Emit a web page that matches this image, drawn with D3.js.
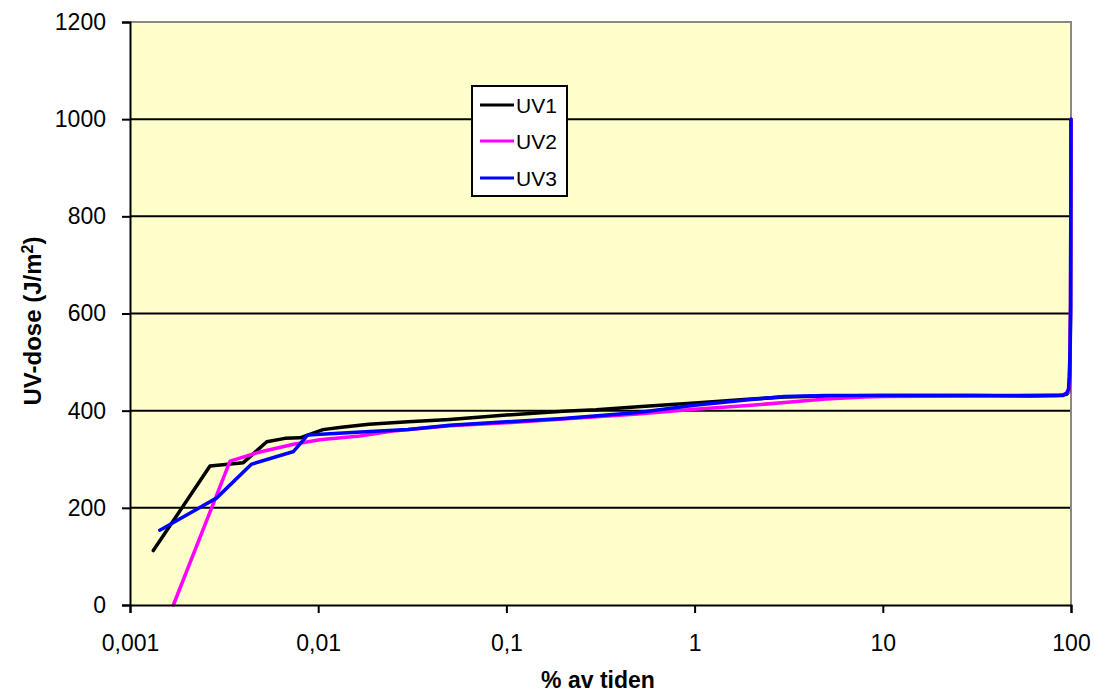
<!DOCTYPE html>
<html>
<head>
<meta charset="utf-8">
<script src="https://cdn.jsdelivr.net/npm/d3@7"></script>
<style>
  html, body { margin: 0; padding: 0; background: #ffffff; }
  svg { display: block; }
  text { font-family: Arial, "Liberation Sans", sans-serif; }
</style>
</head>
<body>
<svg id="chart" width="1095" height="693"></svg>
<script>
// ---- data ----
const seriesNames = ["UV1", "UV2", "UV3"];
const uv1X = [0.00133, 0.00266, 0.004, 0.00533, 0.00666, 0.008, 0.0106, 0.0133, 0.0186, 0.03, 0.05, 0.1, 0.2, 0.3, 0.5, 1, 2, 3, 5, 10, 30, 60, 85, 95, 97, 98, 99, 99.5, 99.95];
const uv1Y = [112, 286, 293, 336, 343, 344, 361, 366, 372, 377, 382, 391, 399, 402, 408, 416, 424, 428, 430, 431, 431, 430, 431, 434, 438, 450, 520, 600, 1000];
const uv2X = [0.0017, 0.0034, 0.0049, 0.0074, 0.0102, 0.0166, 0.025, 0.05, 0.1, 0.2, 0.5, 1, 2, 3, 5, 8, 10, 30, 60, 90, 97, 98, 99, 99.5, 99.95];
const uv2Y = [0, 296, 315, 331, 340, 348, 358, 369, 375, 383, 393, 403, 411, 417, 424, 428, 429, 430, 431, 432, 438, 460, 540, 620, 1000];
const uv3X = [0.00144, 0.00288, 0.00443, 0.0074, 0.0088, 0.0188, 0.03, 0.05, 0.1, 0.2, 0.5, 1, 2, 3, 5, 10, 30, 60, 90, 95, 97, 98, 99, 99.5, 99.95];
const uv3Y = [154, 220, 290, 316, 350, 357, 361, 370, 377, 384, 396, 411, 423, 429, 431, 431, 431, 431, 431, 436, 445, 470, 540, 620, 1000];
const xTickValues = [0.001, 0.01, 0.1, 1, 10, 100];
const xTickLabels = ["0,001", "0,01", "0,1", "1", "10", "100"];
const yTickValues = [0, 200, 400, 600, 800, 1000, 1200];
const yTickLabels = ["0", "200", "400", "600", "800", "1000", "1200"];
const colors = ["#000000", "#ff00ff", "#0000ff"];
const xTitle = "% av tiden";

// ---- layout ----
const svg = d3.select("#chart");
const L = 130, R = 1071, T = 22, B = 605;
const x = d3.scaleLog().domain([0.001, 100]).range([L, R]);
const y = d3.scaleLinear().domain([0, 1200]).range([B, T]);

// plot background
svg.append("rect").attr("x", L).attr("y", T).attr("width", R - L).attr("height", B - T)
  .attr("fill", "#ffffcc");

// gridlines
svg.append("g").selectAll("line").data(yTickValues.filter(v => v > 0 && v < 1200)).join("line")
  .attr("x1", L).attr("x2", R).attr("y1", d => y(d)).attr("y2", d => y(d))
  .attr("stroke", "#000").attr("stroke-width", 2);

// top/right border (gray)
svg.append("path").attr("d", `M${L},${T}H${R}V${B}`).attr("fill", "none")
  .attr("stroke", "#888888").attr("stroke-width", 2);

// series
const series = [
  uv1X.map((v, i) => [v, uv1Y[i]]),
  uv2X.map((v, i) => [v, uv2Y[i]]),
  uv3X.map((v, i) => [v, uv3Y[i]])
];
const line = d3.line().x(d => x(d[0])).y(d => y(d[1]));
svg.append("g").selectAll("path").data(series).join("path")
  .attr("d", line).attr("fill", "none")
  .attr("stroke", (d, i) => colors[i]).attr("stroke-width", 3.5)
  .attr("stroke-linejoin", "round").attr("stroke-linecap", "round");

// axes
const xAxis = d3.axisBottom(x).tickValues(xTickValues)
  .tickFormat((d, i) => xTickLabels[i]).tickSize(8).tickPadding(22);
const gx = svg.append("g").attr("transform", `translate(0,${B})`).call(xAxis);
gx.select(".domain").attr("stroke", "#000").attr("stroke-width", 2);
gx.selectAll(".tick line").attr("stroke", "#000").attr("stroke-width", 2);
gx.selectAll(".tick text").attr("font-size", 23).attr("fill", "#000")
  .attr("font-family", "Arial, 'Liberation Sans', sans-serif");

const yAxis = d3.axisLeft(y).tickValues(yTickValues)
  .tickFormat((d, i) => yTickLabels[i]).tickSize(8).tickPadding(16);
const gy = svg.append("g").attr("transform", `translate(${L},0)`).call(yAxis);
gy.select(".domain").attr("stroke", "#000").attr("stroke-width", 2);
gy.selectAll(".tick line").attr("stroke", "#000").attr("stroke-width", 2);
gy.selectAll(".tick text").attr("font-size", 23).attr("fill", "#000")
  .attr("font-family", "Arial, 'Liberation Sans', sans-serif");

// axis titles
svg.append("text").attr("x", 598).attr("y", 688).attr("text-anchor", "middle")
  .attr("font-size", 23).attr("font-weight", "bold").text(xTitle);

const yt = svg.append("text").attr("transform", "translate(41,321) rotate(-90)")
  .attr("text-anchor", "middle").attr("font-size", 24).attr("font-weight", "bold");
yt.append("tspan").text("UV-dose (J/m");
yt.append("tspan").attr("font-size", 16).attr("dy", -8).text("2");
yt.append("tspan").attr("dy", 8).text(")");

// legend
const lg = svg.append("g");
lg.append("rect").attr("x", 472).attr("y", 86).attr("width", 95).attr("height", 110)
  .attr("fill", "#ffffff").attr("stroke", "#000").attr("stroke-width", 2);
const legY = [105, 141, 178];
seriesNames.forEach((name, i) => {
  lg.append("line").attr("x1", 480).attr("x2", 514).attr("y1", legY[i]).attr("y2", legY[i])
    .attr("stroke", colors[i]).attr("stroke-width", 3);
  lg.append("text").attr("x", 516).attr("y", legY[i]).attr("dy", "0.36em")
    .attr("font-size", 21).attr("fill", "#000").text(name);
});
</script>
</body>
</html>
